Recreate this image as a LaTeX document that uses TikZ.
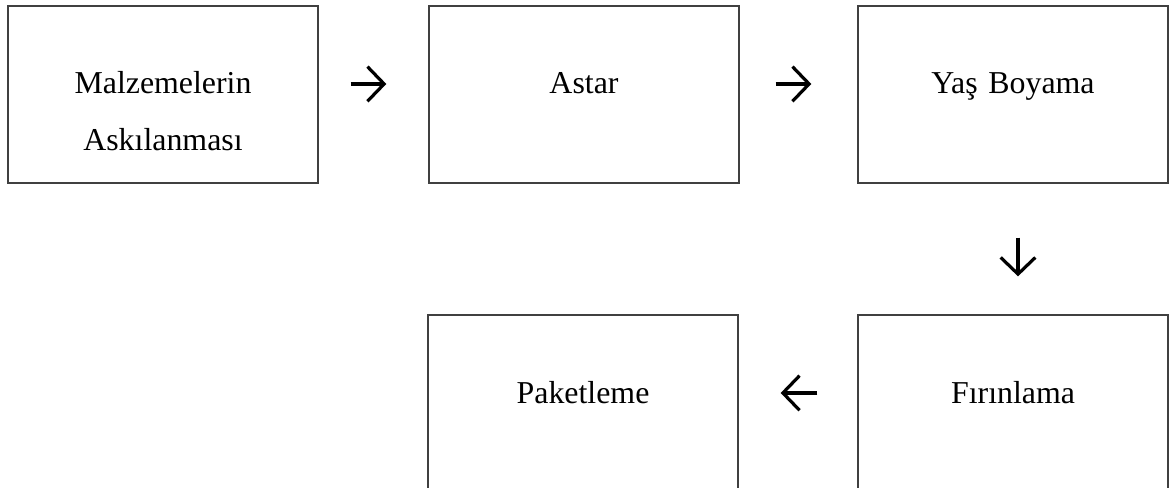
\documentclass[tikz,border=0pt]{standalone}
\usepackage{fontspec}
\setmainfont{Liberation Serif}
\usetikzlibrary{arrows.meta, positioning, calc}
\definecolor{cframe}{HTML}{404040}
\tikzset{
  every picture/.style={line width=1pt},
  stepbox/.style={draw=cframe, line width=1pt, inner sep=0pt, text width=232.5pt, align=center,
                  text height=66pt, text depth=66.75pt, font=\fontsize{23.9pt}{42.75pt}\selectfont},
  flow/.style={-{Straight Barb[length=12.5pt, width=26pt]}, draw=black, line width=2.4pt},
}

\begin{document}
\begin{tikzpicture}[x=0.75pt, y=-0.75pt]
  \useasboundingbox (0,0) rectangle (1173,488);
  \node[stepbox] (ask) at (163,94.5) {Malzemelerin\\Askılanması};
  \node[stepbox] (astar) at (584,94.5) {Astar};
  \node[stepbox] (yas) at (1013,94.5) {Yaş Boyama};
  \node[stepbox] (firin) at (1013,403.5) {Fırınlama};
  \node[stepbox] (paket) at (583,403.5) {Paketleme};
  % arrows sit a bit above the box middles
  \draw[flow] ([xshift=24pt, yshift=7.9pt]ask.east) -- ([xshift=-31.5pt, yshift=7.9pt]astar.west);
  \draw[flow] ([xshift=27pt, yshift=7.9pt]astar.east) -- ([xshift=-34.5pt, yshift=7.9pt]yas.west);
  \draw[flow] ([xshift=3.75pt, yshift=-40.5pt]yas.south) -- ([xshift=3.75pt, yshift=28.5pt]firin.north);
  \draw[flow] ([xshift=-30pt, yshift=7.9pt]firin.west) -- ([xshift=31.5pt, yshift=7.9pt]paket.east);
\end{tikzpicture}
\end{document}
